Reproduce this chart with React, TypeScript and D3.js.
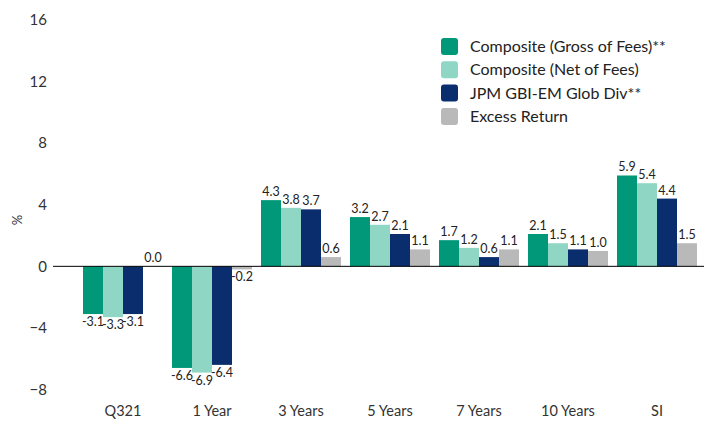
import React, { useEffect, useRef } from "react";
import * as d3 from "d3";

const categories = ["Q321", "1 Year", "3 Years", "5 Years", "7 Years", "10 Years", "SI"];
const seriesNames = [
  "Composite (Gross of Fees)**",
  "Composite (Net of Fees)",
  "JPM GBI-EM Glob Div**",
  "Excess Return"
];
const gross = [-3.1, -6.6, 4.3, 3.2, 1.7, 2.1, 5.9];
const net = [-3.3, -6.9, 3.8, 2.7, 1.2, 1.5, 5.4];
const benchmark = [-3.1, -6.4, 3.7, 2.1, 0.6, 1.1, 4.4];
const excess = [0.0, -0.2, 0.6, 1.1, 1.1, 1.0, 1.5];
const yTicks = [-8, -4, 0, 4, 8, 12, 16];
const colours = ["#009878", "#8fd6c4", "#0a2d6e", "#b9b9b9"];

const font = "Lato, 'Noto Sans', sans-serif";

export default function App() {
  const ref = useRef<SVGSVGElement>(null);

  useEffect(() => {
    const svg = d3.select(ref.current);
    svg.selectAll("*").remove();

    const series = [gross, net, benchmark, excess];

    const y = d3.scaleLinear().domain([-8, 16]).range([389.5, 20]);
    const x0 = d3.scaleBand().domain(categories).range([78.5, 701.5]).paddingInner(9 / 89).paddingOuter(4.5 / 89);
    const x1 = d3.scaleBand().domain(seriesNames).range([0, x0.bandwidth()]);

    // y tick labels
    svg
      .append("g")
      .selectAll("text")
      .data(yTicks)
      .enter()
      .append("text")
      .attr("x", 47)
      .attr("y", d => y(d))
      .attr("dy", "0.35em")
      .attr("text-anchor", "end")
      .attr("font-family", font)
      .attr("font-size", 15)
      .attr("fill", "#333")
      .text(d => (d < 0 ? "\u2212" + Math.abs(d) : d));

    svg
      .append("text")
      .attr("transform", `translate(22, ${y(3)}) rotate(-90)`)
      .attr("text-anchor", "middle")
      .attr("font-family", font)
      .attr("font-size", 13)
      .attr("fill", "#333")
      .text("%");

    const groups = svg
      .append("g")
      .selectAll("g")
      .data(categories)
      .enter()
      .append("g")
      .attr("transform", d => `translate(${x0(d)},0)`);

    groups
      .selectAll("rect")
      .data((c, i) => series.map((s, j) => ({ name: seriesNames[j], value: s[i], j })))
      .enter()
      .append("rect")
      .attr("x", d => x1(d.name) as number)
      .attr("width", x1.bandwidth())
      .attr("y", d => y(Math.max(0, d.value)))
      .attr("height", d => Math.abs(y(d.value) - y(0)))
      .attr("fill", d => colours[d.j]);

    // value labels (they overlap a bit in the small groups, as in the original)
    groups
      .selectAll("text")
      .data((c, i) => series.map((s, j) => ({ name: seriesNames[j], value: s[i], j })))
      .enter()
      .append("text")
      .attr("x", d => (x1(d.name) as number) + x1.bandwidth() / 2)
      .attr("y", d => (d.value < 0 ? y(d.value) + 12 : y(d.value) - 4))
      .attr("text-anchor", "middle")
      .attr("font-family", font)
      .attr("font-size", 12.5)
      .attr("fill", "#222")
      .text(d => d.value.toFixed(1));

    // zero line
    svg
      .append("line")
      .attr("x1", 53)
      .attr("x2", 704)
      .attr("y1", y(0))
      .attr("y2", y(0))
      .attr("stroke", "#000")
      .attr("stroke-width", 1);

    // category labels
    svg
      .append("g")
      .selectAll("text")
      .data(categories)
      .enter()
      .append("text")
      .attr("x", d => (x0(d) as number) + x0.bandwidth() / 2)
      .attr("y", 416)
      .attr("text-anchor", "middle")
      .attr("font-family", font)
      .attr("font-size", 14.5)
      .attr("fill", "#333")
      .text(d => d);

    // legend
    const legend = svg
      .append("g")
      .selectAll("g")
      .data(seriesNames)
      .enter()
      .append("g")
      .attr("transform", (d, i) => `translate(441, ${38 + i * 23.3})`);

    legend
      .append("rect")
      .attr("width", 17)
      .attr("height", 17)
      .attr("rx", 3)
      .attr("fill", (d, i) => colours[i]);

    legend
      .append("text")
      .attr("x", 29)
      .attr("y", 8.5)
      .attr("dy", "0.35em")
      .attr("font-family", font)
      .attr("font-size", 16)
      .attr("fill", "#222")
      .text(d => d);
  }, []);

  return (
    <svg
      ref={ref}
      width={704}
      height={423}
      style={{ position: "absolute", left: 0, top: 0, background: "#fff" }}
    />
  );
}
